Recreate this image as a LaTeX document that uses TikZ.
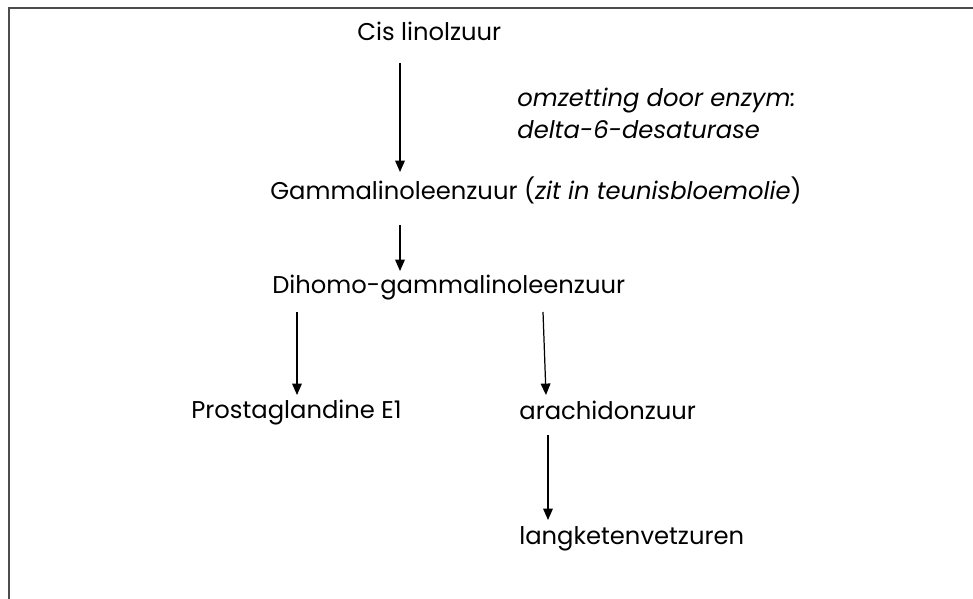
\documentclass[tikz,border=0pt]{standalone}
\usepackage{fontspec}
\setmainfont{Poppins}
\usetikzlibrary{arrows.meta,calc}
\begin{document}
\begin{tikzpicture}[x=0.02cm,y=-0.02cm,
        stof/.style={anchor=base west,inner sep=0pt,font=\fontsize{13.8}{16}\selectfont},
        enzym/.style={stof,font=\fontsize{13.8}{16}\selectfont\itshape},
        pijl/.style={-{Triangle[width=5.5pt,length=6.5pt]},line width=0.7pt}]
    \useasboundingbox (0,0) rectangle (973,598);
    % kader
    \draw[gray!60!black,line width=1.1pt] (9,600) -- (9,8) -- (975,8);

    \node[stof] (cis) at (357,41) {Cis linolzuur};
    \node[enzym] (enz1) at (517,107) {omzetting door enzym:};
    \node[enzym] (enz2) at (517,138) {delta-6-desaturase};
    \node[stof] (gla) at (270,199) {Gammalinoleenzuur (\textit{zit in teunisbloemolie})};
    \node[stof] (dgla) at (272,293) {Dihomo-gammalinoleenzuur};
    \node[stof] (pge) at (191,418) {Prostaglandine E1};
    \node[stof] (ara) at (519,419) {arachidonzuur};
    \node[stof] (lang) at (519,544) {langketenvetzuren};

    \draw[pijl] ($(cis.base -| 400,0)+(0,22)$) -- ($(gla.base -| 400,0)+(0,-27)$);
    \draw[pijl] ($(gla.base -| 400,0)+(0,26)$) -- ($(dgla.base -| 400,0)+(0,-22)$);
    \draw[pijl] ($(dgla.base -| 297,0)+(0,19)$) -- ($(pge.base -| 297,0)+(0,-23)$);
    \draw[pijl] ($(dgla.base -| 543,0)+(0,19)$) -- ($(ara.base -| 546,0)+(0,-24)$);
    \draw[pijl] ($(ara.base -| 548,0)+(0,16)$) -- ($(lang.base -| 548,0)+(0,-24)$);
\end{tikzpicture}
\end{document}
